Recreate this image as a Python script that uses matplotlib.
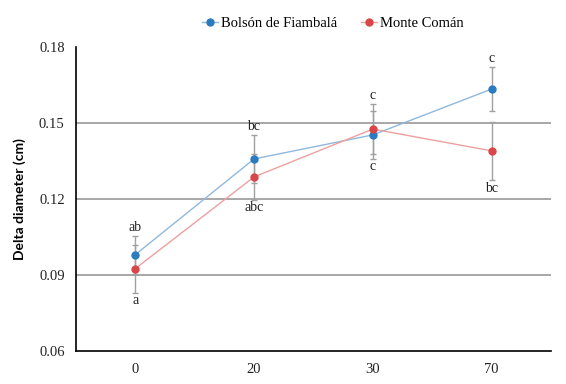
import matplotlib
matplotlib.use("Agg")
import matplotlib.pyplot as plt
from matplotlib.lines import Line2D
import numpy as np

categories = ["0", "20", "30", "70"]
bolson = [0.098, 0.1358, 0.1453, 0.1634]
bolson_err = [0.0075, 0.0095, 0.0095, 0.0087]
monte = [0.0925, 0.1287, 0.1476, 0.139]
monte_err = [0.0095, 0.009, 0.0100, 0.0115]
labels_top = ["ab", "bc", "c", "c"]
labels_bottom = ["a", "abc", "c", "bc"]
yticks = [0.06, 0.09, 0.12, 0.15, 0.18]

serif = ["Liberation Serif", "DejaVu Serif"]
plt.rcParams['font.family'] = serif

fig = plt.figure(figsize=(5.66, 3.84), dpi=100)
ax = fig.add_axes([0.134, 0.086, 0.8395, 0.7916])

x = np.arange(len(categories)) + 0.5
blue = "#2a7bbf"
red = "#d9464a"
lblue = "#8fb8dd"
lred = "#eea0a0"
ax.errorbar(x, bolson, yerr=bolson_err, color=lblue, lw=1, ecolor="#a0a0a0",
            elinewidth=1, capsize=2, marker="o", ms=5, mfc=blue, mec=blue, zorder=3)
ax.errorbar(x, monte, yerr=monte_err, color=lred, lw=1, ecolor="#a0a0a0",
            elinewidth=1, capsize=2, marker="o", ms=5, mfc=red, mec=red, zorder=3)

tops = [max(b + be, m + me) for b, be, m, me in zip(bolson, bolson_err, monte, monte_err)]
bots = [min(b - be, m - me) for b, be, m, me in zip(bolson, bolson_err, monte, monte_err)]
for xi, t, b, lt, lb in zip(x, tops, bots, labels_top, labels_bottom):
    ax.text(xi, t + 0.0006, lt, ha="center", va="bottom", fontsize=10, color="#222222")
    ax.text(xi, b - 0.0006, lb, ha="center", va="top", fontsize=10, color="#222222")

ax.set_xlim(0, 4)
ax.set_ylim(0.06, 0.18)
ax.set_xticks(x)
ax.set_xticklabels(categories)
ax.set_yticks(yticks)
ax.set_yticklabels([f"{v:.2f}" for v in yticks])
ax.tick_params(axis="both", length=0, labelsize=10.5, colors="#222222", pad=8)
ax.tick_params(axis="x", pad=9)
for v in yticks[1:-1]:
    ax.axhline(v, color="#a0a0a0", lw=1.3, zorder=1)
ax.spines["top"].set_visible(False)
ax.spines["right"].set_visible(False)
ax.spines["left"].set_linewidth(1.2)
ax.spines["bottom"].set_linewidth(1.2)

ax.set_ylabel("Delta diameter (cm)", fontsize=10, fontweight="bold",
              family=["Lato", "DejaVu Sans"], labelpad=9)

handles = [
    Line2D([], [], color=lblue, lw=1, marker="o", ms=5, mfc=blue, mec=blue),
    Line2D([], [], color=lred, lw=1, marker="o", ms=5, mfc=red, mec=red),
]
fig.legend(handles, ["Bolsón de Fiambalá", "Monte Comán"], loc="upper center",
           bbox_to_anchor=(0.588, 0.99), ncol=2, frameon=False,
           fontsize=10.5, handlelength=1.1, columnspacing=1.6, handletextpad=0.2)

fig.savefig("out.png", dpi=100)
